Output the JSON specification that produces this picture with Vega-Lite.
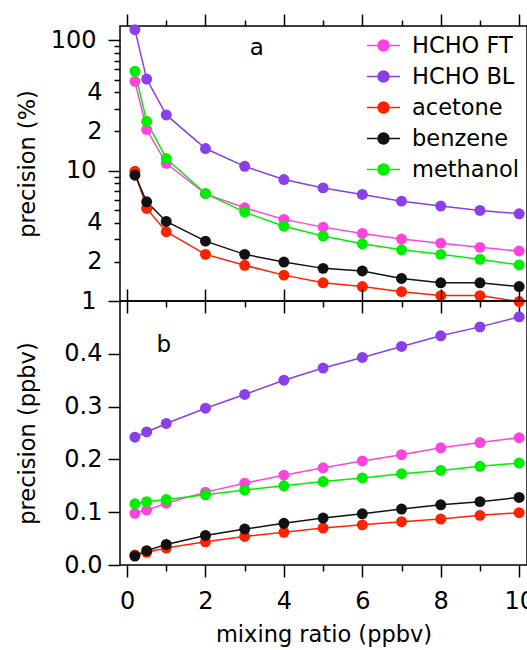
{
  "$schema": "https://vega.github.io/schema/vega-lite/v6.json",
  "padding": {"left": 15, "top": 12, "right": 0, "bottom": 0},
  "background": "white",
  "config": {
    "font": "DejaVu Sans",
    "view": {"stroke": "black", "strokeWidth": 1.5},
    "axis": {"domain": false, "grid": false, "tickColor": "black", "tickWidth": 1.5, "labelColor": "black", "titleColor": "black", "labelFontSize": 24, "titleFontSize": 22.5, "titleFontWeight": "normal", "labelFont": "DejaVu Sans", "titleFont": "DejaVu Sans"}
  },
  "datasets": {
    "d": [
      {"species": "HCHO FT", "x": 0.2, "pct": 48.5, "ppbv": 0.098},
      {"species": "HCHO FT", "x": 0.5, "pct": 20.7, "ppbv": 0.104},
      {"species": "HCHO FT", "x": 1, "pct": 11.4, "ppbv": 0.117},
      {"species": "HCHO FT", "x": 2, "pct": 6.64, "ppbv": 0.138},
      {"species": "HCHO FT", "x": 3, "pct": 5.19, "ppbv": 0.155},
      {"species": "HCHO FT", "x": 4, "pct": 4.23, "ppbv": 0.170},
      {"species": "HCHO FT", "x": 5, "pct": 3.69, "ppbv": 0.184},
      {"species": "HCHO FT", "x": 6, "pct": 3.30, "ppbv": 0.197},
      {"species": "HCHO FT", "x": 7, "pct": 2.99, "ppbv": 0.209},
      {"species": "HCHO FT", "x": 8, "pct": 2.78, "ppbv": 0.222},
      {"species": "HCHO FT", "x": 9, "pct": 2.58, "ppbv": 0.232},
      {"species": "HCHO FT", "x": 10, "pct": 2.42, "ppbv": 0.241},
      {"species": "HCHO BL", "x": 0.2, "pct": 121, "ppbv": 0.242},
      {"species": "HCHO BL", "x": 0.5, "pct": 50.5, "ppbv": 0.252},
      {"species": "HCHO BL", "x": 1, "pct": 26.8, "ppbv": 0.268},
      {"species": "HCHO BL", "x": 2, "pct": 14.8, "ppbv": 0.297},
      {"species": "HCHO BL", "x": 3, "pct": 10.8, "ppbv": 0.323},
      {"species": "HCHO BL", "x": 4, "pct": 8.56, "ppbv": 0.350},
      {"species": "HCHO BL", "x": 5, "pct": 7.38, "ppbv": 0.373},
      {"species": "HCHO BL", "x": 6, "pct": 6.57, "ppbv": 0.393},
      {"species": "HCHO BL", "x": 7, "pct": 5.84, "ppbv": 0.414},
      {"species": "HCHO BL", "x": 8, "pct": 5.35, "ppbv": 0.434},
      {"species": "HCHO BL", "x": 9, "pct": 4.95, "ppbv": 0.451},
      {"species": "HCHO BL", "x": 10, "pct": 4.67, "ppbv": 0.470},
      {"species": "acetone", "x": 0.2, "pct": 9.9, "ppbv": 0.019},
      {"species": "acetone", "x": 0.5, "pct": 5.13, "ppbv": 0.024},
      {"species": "acetone", "x": 1, "pct": 3.40, "ppbv": 0.032},
      {"species": "acetone", "x": 2, "pct": 2.28, "ppbv": 0.044},
      {"species": "acetone", "x": 3, "pct": 1.88, "ppbv": 0.054},
      {"species": "acetone", "x": 4, "pct": 1.58, "ppbv": 0.062},
      {"species": "acetone", "x": 5, "pct": 1.38, "ppbv": 0.070},
      {"species": "acetone", "x": 6, "pct": 1.29, "ppbv": 0.076},
      {"species": "acetone", "x": 7, "pct": 1.18, "ppbv": 0.082},
      {"species": "acetone", "x": 8, "pct": 1.10, "ppbv": 0.087},
      {"species": "acetone", "x": 9, "pct": 1.10, "ppbv": 0.094},
      {"species": "acetone", "x": 10, "pct": 0.99, "ppbv": 0.099},
      {"species": "benzene", "x": 0.2, "pct": 9.24, "ppbv": 0.017},
      {"species": "benzene", "x": 0.5, "pct": 5.77, "ppbv": 0.027},
      {"species": "benzene", "x": 1, "pct": 4.08, "ppbv": 0.039},
      {"species": "benzene", "x": 2, "pct": 2.88, "ppbv": 0.056},
      {"species": "benzene", "x": 3, "pct": 2.28, "ppbv": 0.068},
      {"species": "benzene", "x": 4, "pct": 1.99, "ppbv": 0.079},
      {"species": "benzene", "x": 5, "pct": 1.78, "ppbv": 0.089},
      {"species": "benzene", "x": 6, "pct": 1.70, "ppbv": 0.097},
      {"species": "benzene", "x": 7, "pct": 1.49, "ppbv": 0.106},
      {"species": "benzene", "x": 8, "pct": 1.38, "ppbv": 0.114},
      {"species": "benzene", "x": 9, "pct": 1.38, "ppbv": 0.120},
      {"species": "benzene", "x": 10, "pct": 1.29, "ppbv": 0.128},
      {"species": "methanol", "x": 0.2, "pct": 57.9, "ppbv": 0.116},
      {"species": "methanol", "x": 0.5, "pct": 23.9, "ppbv": 0.120},
      {"species": "methanol", "x": 1, "pct": 12.4, "ppbv": 0.124},
      {"species": "methanol", "x": 2, "pct": 6.69, "ppbv": 0.133},
      {"species": "methanol", "x": 3, "pct": 4.81, "ppbv": 0.142},
      {"species": "methanol", "x": 4, "pct": 3.75, "ppbv": 0.150},
      {"species": "methanol", "x": 5, "pct": 3.15, "ppbv": 0.158},
      {"species": "methanol", "x": 6, "pct": 2.75, "ppbv": 0.165},
      {"species": "methanol", "x": 7, "pct": 2.47, "ppbv": 0.173},
      {"species": "methanol", "x": 8, "pct": 2.28, "ppbv": 0.179},
      {"species": "methanol", "x": 9, "pct": 2.09, "ppbv": 0.187},
      {"species": "methanol", "x": 10, "pct": 1.89, "ppbv": 0.193}
    ]
  },
  "spacing": 0,
  "bounds": "flush",
  "resolve": {"scale": {"color": "independent"}, "legend": {"color": "independent"}},
  "vconcat": [
    {
      "width": 407,
      "height": 275,
      "data": {"name": "d"},
      "resolve": {"axis": {"x": "independent", "y": "independent"}},
      "layer": [
        {
          "mark": {"type": "line", "strokeWidth": 1.5},
          "encoding": {
            "x": {"field": "x", "type": "quantitative", "scale": {"domain": [-0.18, 10.2], "nice": false, "zero": false},
              "axis": {"orient": "bottom", "values": [0,1,2,3,4,5,6,7,8,9,10], "labels": false, "title": null,
                "tickSize": {"condition": {"test": "datum.value % 2 === 0", "value": 12}, "value": 6}}},
            "y": {"field": "pct", "type": "quantitative", "scale": {"type": "log", "domain": [1, 129], "nice": false},
              "axis": {"orient": "left", "values": [1,2,3,4,5,6,7,8,9,10,20,30,40,50,60,70,80,90,100],
                "labelExpr": "datum.value == 100 ? '100' : datum.value == 40 ? '4' : datum.value == 20 ? '2' : datum.value == 10 ? '10' : datum.value == 4 ? '4' : datum.value == 2 ? '2' : datum.value == 1 ? '1' : ''",
                "tickSize": {"condition": {"test": "datum.value == 1 || datum.value == 10 || datum.value == 100", "value": 12}, "value": 6},
                "labelPadding": 12, "title": "precision (%)", "titleX": -81, "titleBaseline": "bottom"}},
            "color": {"field": "species", "type": "nominal",
              "scale": {"domain": ["HCHO FT", "HCHO BL", "acetone", "benzene", "methanol"], "range": ["#FF44DD", "#8A3FE8", "#FF2200", "#111111", "#00EE00"]},
              "legend": {"orient": "none", "legendX": 246, "legendY": 2, "title": null,
                "symbolType": "M-1,0L1,0M0.33,0A0.33,0.33,0,1,1,-0.33,0A0.33,0.33,0,1,1,0.33,0Z",
                "symbolSize": 1089, "symbolStrokeWidth": 1.5, "labelFontSize": 22.5, "labelOffset": 11, "rowPadding": 2, "padding": 0, "labelColor": "black", "labelLimit": 300}}
          }
        },
        {
          "mark": {"type": "point", "filled": true, "size": 120, "opacity": 1},
          "encoding": {
            "x": {"field": "x", "type": "quantitative",
              "axis": {"orient": "top", "values": [0,1,2,3,4,5,6,7,8,9,10], "labels": false, "title": null,
                "tickSize": {"condition": {"test": "datum.value % 2 === 0", "value": 12}, "value": 6}}},
            "y": {"field": "pct", "type": "quantitative",
              "axis": {"orient": "right", "values": [1,2,3,4,5,6,7,8,9,10,20,30,40,50,60,70,80,90,100], "labels": false, "title": null, "tickSize": 4}},
            "color": {"field": "species", "type": "nominal",
              "legend": {"orient": "none", "legendX": 246, "legendY": 2, "title": null,
                "symbolType": "M-1,0L1,0M0.33,0A0.33,0.33,0,1,1,-0.33,0A0.33,0.33,0,1,1,0.33,0Z",
                "symbolSize": 1089, "symbolStrokeWidth": 1.5, "labelFontSize": 22.5, "labelOffset": 11, "rowPadding": 2, "padding": 0, "labelColor": "black", "labelLimit": 300}}
          }
        },
        {
          "data": {"values": [{"x": 3.31, "pct": 87, "t": "a"}]},
          "mark": {"type": "text", "fontSize": 23, "color": "black"},
          "encoding": {
            "x": {"field": "x", "type": "quantitative", "axis": null},
            "y": {"field": "pct", "type": "quantitative", "axis": null},
            "text": {"field": "t"}
          }
        }
      ]
    },
    {
      "width": 407,
      "height": 264,
      "data": {"name": "d"},
      "resolve": {"axis": {"x": "independent", "y": "independent"}},
      "layer": [
        {
          "mark": {"type": "line", "strokeWidth": 1.5},
          "encoding": {
            "x": {"field": "x", "type": "quantitative", "scale": {"domain": [-0.18, 10.2], "nice": false, "zero": false},
              "axis": {"orient": "bottom", "values": [0,1,2,3,4,5,6,7,8,9,10],
                "labelExpr": "datum.value % 2 === 0 ? datum.label : ''",
                "tickSize": {"condition": {"test": "datum.value % 2 === 0", "value": 12}, "value": 6},
                "labelPadding": 12, "title": "mixing ratio (ppbv)", "titlePadding": 10}},
            "y": {"field": "ppbv", "type": "quantitative", "scale": {"domain": [0, 0.5], "nice": false},
              "axis": {"orient": "left", "values": [0, 0.1, 0.2, 0.3, 0.4], "format": ".1f", "tickSize": 12, "labelPadding": 6,
                "title": "precision (ppbv)", "titleX": -81, "titleBaseline": "bottom"}},
            "color": {"field": "species", "type": "nominal",
              "scale": {"domain": ["HCHO FT", "HCHO BL", "acetone", "benzene", "methanol"], "range": ["#FF44DD", "#8A3FE8", "#FF2200", "#111111", "#00EE00"]},
              "legend": null}
          }
        },
        {
          "mark": {"type": "point", "filled": true, "size": 120, "opacity": 1},
          "encoding": {
            "x": {"field": "x", "type": "quantitative",
              "axis": {"orient": "top", "values": [0,2,4,6,8,10], "labels": false, "title": null, "tickSize": 12}},
            "y": {"field": "ppbv", "type": "quantitative",
              "axis": {"orient": "right", "values": [0.1, 0.2, 0.3, 0.4], "labels": false, "title": null, "tickSize": 4}},
            "color": {"field": "species", "type": "nominal", "legend": null}
          }
        },
        {
          "data": {"values": [{"x": 0.94, "ppbv": 0.417, "t": "b"}]},
          "mark": {"type": "text", "fontSize": 23, "color": "black"},
          "encoding": {
            "x": {"field": "x", "type": "quantitative", "axis": null},
            "y": {"field": "ppbv", "type": "quantitative", "axis": null},
            "text": {"field": "t"}
          }
        }
      ]
    }
  ]
}
